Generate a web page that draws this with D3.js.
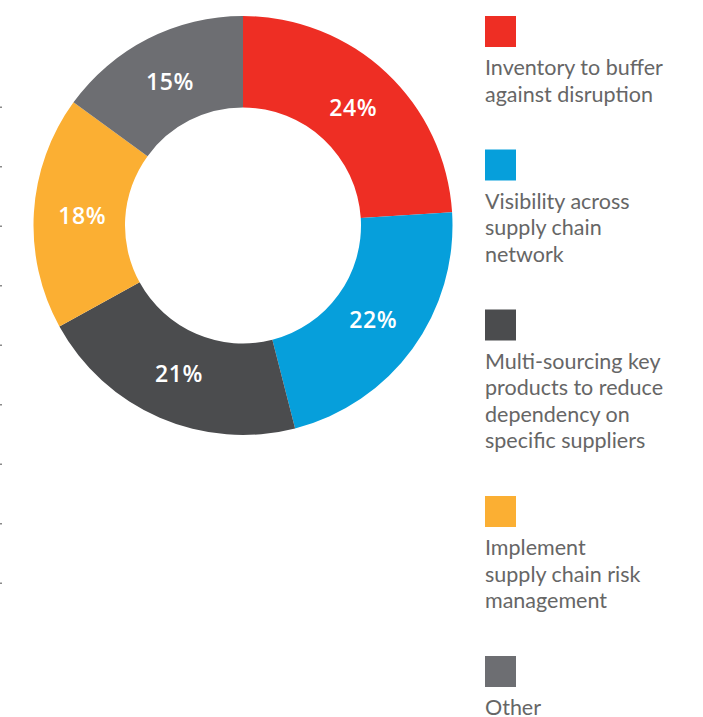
<!DOCTYPE html>
<html>
<head>
<meta charset="utf-8">
<script src="https://cdn.jsdelivr.net/npm/d3@7"></script>
<style>
  html, body { margin: 0; padding: 0; background: #fff; }
  svg { display: block; }
</style>
</head>
<body>
<svg id="chart" width="703" height="717"></svg>
<script>
// Supply-chain resilience priorities (share of respondents, %)
const categories = [
  "Inventory to buffer against disruption",
  "Visibility across supply chain network",
  "Multi-sourcing key products to reduce dependency on specific suppliers",
  "Implement supply chain risk management",
  "Other"
];
const legendLines = [
  ["Inventory to buffer", "against disruption"],
  ["Visibility across", "supply chain", "network"],
  ["Multi-sourcing key", "products to reduce", "dependency on", "specific suppliers"],
  ["Implement", "supply chain risk", "management"],
  ["Other"]
];
const values = [24, 22, 21, 18, 15];
const colors = ["#EE2E24", "#069FDB", "#4B4C4E", "#FBAF33", "#6D6E72"];

const svg = d3.select("#chart");

// Donut geometry
const cx = 243, cy = 225.5;
const outerR = 209.5, innerR = 118, labelR = 161;

const pie = d3.pie().sort(null).value(d => d.value);
const arcs = pie(categories.map((c, i) => ({ name: c, value: values[i], color: colors[i] })));

const arc = d3.arc().innerRadius(innerR).outerRadius(outerR);
const labelArc = d3.arc().innerRadius(labelR).outerRadius(labelR);

const g = svg.append("g").attr("transform", `translate(${cx},${cy})`);

g.selectAll("path.slice")
  .data(arcs)
  .join("path")
  .attr("class", "slice")
  .attr("d", arc)
  .attr("fill", d => d.data.color);

g.selectAll("text.pct")
  .data(arcs)
  .join("text")
  .attr("class", "pct")
  .attr("transform", d => `translate(${labelArc.centroid(d)})`)
  .attr("text-anchor", "middle")
  .attr("dy", "0.36em")
  .attr("fill", "#fff")
  .style("font-family", "'Open Sans', sans-serif")
  .style("font-weight", 600)
  .style("font-size", "23px")
  .style("letter-spacing", "0.6px")
  .text(d => d.data.value + "%");

// Faint tick marks along the left edge
const tickScale = d3.scaleLinear().domain([0, 8]).range([107, 583]);
svg.append("g")
  .selectAll("rect")
  .data(d3.range(0, 9))
  .join("rect")
  .attr("x", 0)
  .attr("y", d => tickScale(d) - 0.5)
  .attr("width", 2)
  .attr("height", 1.5)
  .attr("fill", "#8a8a8a");

// Legend: colour swatch above wrapped label, stacked vertically
const legend = svg.append("g").attr("transform", "translate(485,0)");
const swatch = 31, firstLineOffset = 52, lineH = 26.5, itemGap = 55;
let y = 16;
legendLines.forEach((lines, i) => {
  const item = legend.append("g").attr("transform", `translate(0,${y})`);
  item.append("rect")
    .attr("width", swatch)
    .attr("height", swatch)
    .attr("fill", colors[i]);
  item.selectAll("text")
    .data(lines)
    .join("text")
    .attr("x", 0)
    .attr("y", (d, j) => firstLineOffset + j * lineH)
    .attr("dy", "0.34em")
    .attr("fill", "#666666")
    .style("font-family", "Lato, sans-serif")
    .style("font-size", "21.5px")
    .text(d => d);
  y += firstLineOffset + (lines.length - 1) * lineH + itemGap;
});
</script>
</body>
</html>
